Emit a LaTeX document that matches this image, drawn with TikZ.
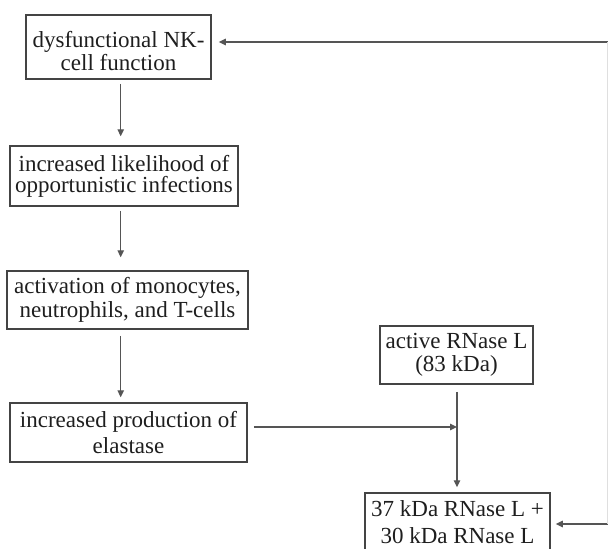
\documentclass[tikz,border=0pt]{standalone}
\usepackage{fontspec}
\setmainfont{Liberation Serif}
\usetikzlibrary{arrows.meta}
\definecolor{boxc}{HTML}{444444}
\definecolor{linec}{HTML}{555555}
\definecolor{txtc}{HTML}{1E1E1E}
\tikzset{
  box/.style={draw=boxc, line width=1.5pt, align=center, text=txtc, inner sep=0pt},
  sk/.style={font=\fontsize{23}{#1}\selectfont},
  arr/.style={draw=linec, line width=1.3pt, -{Triangle[length=7pt,width=6.5pt]}},
  plain/.style={draw=linec, line width=1.3pt}
}
\begin{document}
\begin{tikzpicture}[x=1pt,y=-1pt]
\useasboundingbox (0,0) rectangle (608,549);
% boxes
\node[box, minimum width=185pt, minimum height=64pt] (nk) at (118.5,47) {};
\node[text=txtc, align=center, sk=21, inner sep=0pt] (nkt) at ([yshift=-4pt]nk.center) {dysfunctional NK-\\cell function};
\node[box, sk=21, minimum width=228pt, minimum height=60pt] (lik) at (124,176) {increased likelihood of\\opportunistic infections};
\node[box, sk=24, minimum width=241pt, minimum height=58pt] (act) at (127.5,300) {activation of monocytes,\\neutrophils, and T-cells};
\node[box, sk=26.5, minimum width=237pt, minimum height=59pt] (prod) at (128.5,432.5) {increased production of\\elastase};
\node[box, sk=23, minimum width=153pt, minimum height=58pt] (rn) at (456.5,355) {active RNase L\\(83 kDa)};
\node[box, sk=27, minimum width=185pt, minimum height=59pt] (fr) at (457.5,522.5) {37 kDa RNase L +\\30 kDa RNase L};
% helper coordinates
\coordinate (xc) at (120.7,0);
\coordinate (j) at (457,427);
\coordinate (e1) at (608,42);
\coordinate (e2) at (608,524);
% connectors
\draw[arr, shorten <=4pt, shorten >=9pt] (nk.south -| xc) -- (lik.north -| xc);
\draw[arr, shorten <=4pt, shorten >=13pt] (lik.south -| xc) -- (act.north -| xc);
\draw[arr, shorten <=6pt, shorten >=5pt] (act.south -| xc) -- (prod.north -| xc);
\draw[arr, shorten <=6pt] (prod.east |- j) -- (j);
\draw[arr, shorten <=7pt, shorten >=5pt] (rn.south -| j) -- (fr.north -| j);
\draw[arr, shorten >=7pt] (e1) -- (nk.east |- e1);
\draw[arr, shorten >=5pt] (e2) -- (fr.east |- e2);
\draw[plain, draw=gray!25] (e1) -- (e2);
\end{tikzpicture}
\end{document}
